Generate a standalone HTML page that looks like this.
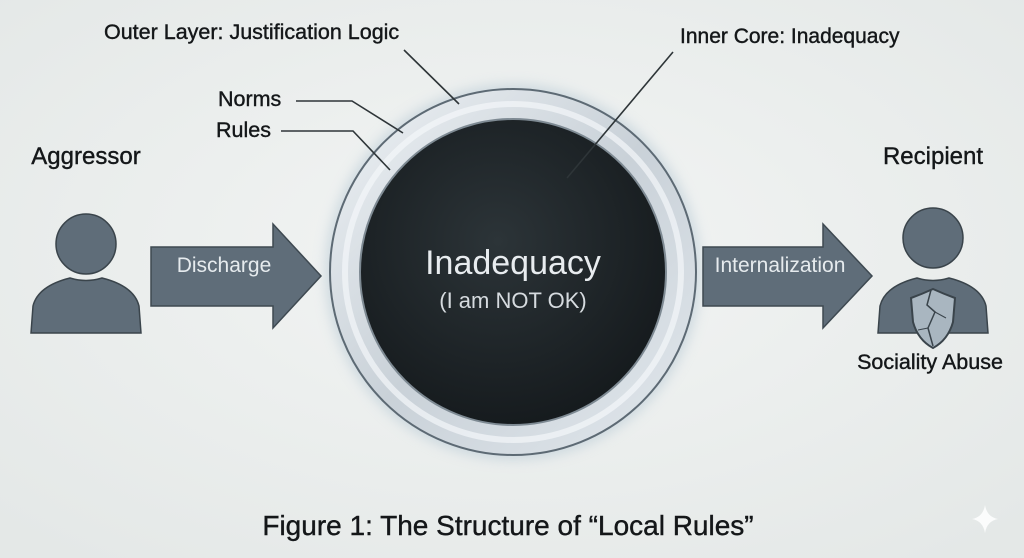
<!DOCTYPE html>
<html><head><meta charset="utf-8"><style>
html,body{margin:0;padding:0;background:#e9eceb;}
svg{display:block;font-family:"Liberation Sans",Arial,sans-serif;}
</style></head><body>
<svg width="1024" height="558" viewBox="0 0 1024 558" xmlns="http://www.w3.org/2000/svg">
<defs>
<radialGradient id="bg" cx="50%" cy="45%" r="70%"><stop offset="0" stop-color="#f3f5f4"/><stop offset="1" stop-color="#e4e8e7"/></radialGradient>
<radialGradient id="core" cx="45%" cy="40%" r="60%"><stop offset="0" stop-color="#2c3438"/><stop offset="1" stop-color="#161b1e"/></radialGradient>
<linearGradient id="ring" x1="0" y1="0" x2="1" y2="1"><stop offset="0" stop-color="#eef2f5"/><stop offset="0.5" stop-color="#c9d1d8"/><stop offset="1" stop-color="#e2e8ed"/></linearGradient>
<filter id="glow" x="-20%" y="-20%" width="140%" height="140%"><feGaussianBlur stdDeviation="6"/></filter>
</defs>
<rect width="1024" height="558" fill="url(#bg)"/>

<circle cx="513" cy="272" r="188" fill="#b9cad6" opacity="0.6" filter="url(#glow)"/>
<circle cx="513" cy="272" r="183" fill="url(#ring)" stroke="#5d6a74" stroke-width="2"/>
<circle cx="513" cy="272" r="168" fill="none" stroke="#f4f7f9" stroke-width="6" opacity="0.7"/>
<circle cx="513" cy="272" r="153" fill="url(#core)" stroke="#7e8a93" stroke-width="2"/>
<text x="513" y="274" text-anchor="middle" font-size="34" fill="#e8ecef">Inadequacy</text>
<text x="513" y="308" text-anchor="middle" font-size="22" fill="#d6dbdf">(I am NOT OK)</text>

<g stroke="#2e3538" stroke-width="1.6" fill="none">
<line x1="404" y1="50" x2="459" y2="104"/>
<polyline points="296,101 352,101 403,133"/>
<polyline points="281,131 353,131 390,170"/>
<line x1="673" y1="52" x2="567" y2="178"/>
</g>
<g fill="#141719" stroke="#141719" stroke-width="0.4">
<text x="104" y="39" font-size="21.5">Outer Layer: Justification Logic</text>
<text x="218" y="106" font-size="21.5">Norms</text>
<text x="216" y="137" font-size="21.5">Rules</text>
<text x="680" y="43" font-size="21">Inner Core: Inadequacy</text>
<text x="86" y="164" text-anchor="middle" font-size="24">Aggressor</text>
<text x="933" y="164" text-anchor="middle" font-size="24">Recipient</text>
<text x="930" y="369" text-anchor="middle" font-size="21.5">Sociality Abuse</text>
<text x="508" y="535" text-anchor="middle" font-size="28">Figure 1: The Structure of “Local Rules”</text>
</g>

<polygon points="151,247 273,247 273,224 321,276 273,328 273,306 151,306" fill="#5f6d79" stroke="#3e4951" stroke-width="1.5"/>
<text x="224" y="272" text-anchor="middle" font-size="21" fill="#e6ebee">Discharge</text>
<polygon points="703,247 823,247 823,224 872,276 823,328 823,306 703,306" fill="#5f6d79" stroke="#3e4951" stroke-width="1.5"/>
<text x="780" y="272" text-anchor="middle" font-size="21" fill="#e6ebee">Internalization</text>

<circle cx="86" cy="244" r="30" fill="#5f6d79" stroke="#3a444b" stroke-width="1.5"/>
<path d="M31,333 L33,306 Q38,286 70,278 Q86,283 102,278 Q134,286 139,306 L141,333 Z" fill="#5f6d79" stroke="#3a444b" stroke-width="1.5"/>

<circle cx="933" cy="238" r="30" fill="#5f6d79" stroke="#3a444b" stroke-width="1.5"/>
<path d="M878,333 L880,306 Q885,286 917,278 Q933,283 949,278 Q981,286 986,306 L988,333 Z" fill="#5f6d79" stroke="#3a444b" stroke-width="1.5"/>
<path d="M911,298 Q922,294 933,289 Q944,294 955,298 L953,322 Q948,340 933,348 Q918,340 913,322 Z" fill="#a9b6c0" stroke="#3a444b" stroke-width="2"/>
<path d="M931,290 L927,305 L935,312 L928,328 L933,346" fill="none" stroke="#3a444b" stroke-width="1.5"/>
<path d="M935,312 L946,318 M928,328 L918,330" fill="none" stroke="#3a444b" stroke-width="1"/>

<path d="M985,505 Q987,517 998,519 Q987,521 985,533 Q983,521 972,519 Q983,517 985,505 Z" fill="#fbfcfc"/>
</svg>
</body></html>
